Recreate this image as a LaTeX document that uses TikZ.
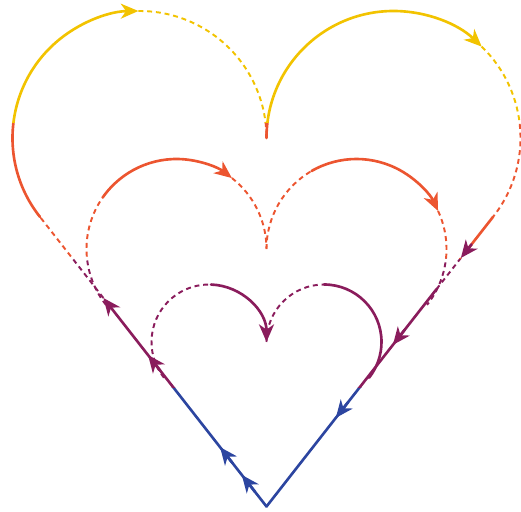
\documentclass[tikz,border=0pt]{standalone}
\usetikzlibrary{arrows.meta,calc}

\definecolor{hyellow}{HTML}{F2C300}
\definecolor{hred}{HTML}{EC5530}
\definecolor{hpurple}{HTML}{8A1C5C}
\definecolor{hblue}{HTML}{2C45A0}

\newcommand{\heartlines}{%
\draw[solidline,withtip] (V) -- ($(V)!0.72!(bTL)$);
\draw[dashline] ($(V)!0.72!(bTL)$) -- (bTL);
\draw[solidline] (V) -- ($(V)!0.75!(bTR)$);
\draw[dashline] ($(V)!0.75!(bTR)$) -- ($(V)!0.858!(bTR)$);
\draw[solidline] ($(V)!0.87!(bTR)$) -- (bTR);
\draw[solidline,withtip] ($(V)!0.05!(bTL)$) -- ($(V)!0.109!(bTL)$);
\draw[solidline,withtip] ($(V)!0.15!(bTL)$) -- ($(V)!0.205!(bTL)$);
\draw[solidline,withtip] ($(V)!0.47!(bTL)$) -- ($(V)!0.523!(bTL)$);
\draw[solidline,withtip] ($(V)!0.61!(bTR)$) -- ($(V)!0.558!(bTR)$);
\draw[solidline,withtip] ($(V)!0.36!(bTR)$) -- ($(V)!0.306!(bTR)$);
\draw[solidline,withtip] (bTL) arc[start angle=218.4, end angle=90.5, radius=127];
\draw[dashline] (bL) ++(90.5:127) arc[start angle=90.5, end angle=0, radius=127];
\draw[solidline,withtip] (bR) ++(180:127) arc[start angle=180, end angle=46, radius=127];
\draw[dashline] (bR) ++(46:127) arc[start angle=46, end angle=-38.4, radius=127];
\draw[dashline] (mTL) arc[start angle=218.4, end angle=145, radius=90];
\draw[solidline,withtip] (mL) ++(145:90) arc[start angle=145, end angle=52, radius=90];
\draw[dashline] (mL) ++(52:90) arc[start angle=52, end angle=0, radius=90];
\draw[dashline] (mR) ++(180:90) arc[start angle=180, end angle=120, radius=90];
\draw[solidline,withtip] (mR) ++(120:90) arc[start angle=120, end angle=25, radius=90];
\draw[dashline] (mR) ++(25:90) arc[start angle=25, end angle=-38.4, radius=90];
\draw[dashline] (sTL) arc[start angle=218.4, end angle=88, radius=57.5];
\draw[solidline,withtip] (sL) ++(88:57.5) arc[start angle=88, end angle=0, radius=57.5];
\draw[dashline] (sR) ++(180:57.5) arc[start angle=180, end angle=90, radius=57.5];
\draw[solidline] (sR) ++(90:57.5) arc[start angle=90, end angle=-38.4, radius=57.5];
}

\begin{document}
\begin{tikzpicture}[x=0.02cm, y=0.02cm,
  solidline/.style={line width=1.5pt, line cap=round},
  dashline/.style={line width=1.1pt, dash pattern=on 2.8pt off 2.2pt},
  withtip/.style={-{Stealth[length=10pt, width=8.5pt, inset=3pt]}}]
\useasboundingbox (0,0) rectangle (521,511);
\coordinate (V) at (266.5,4.5);
\coordinate (bL) at (139.5,373);
\coordinate (bR) at (393.5,373);
\coordinate (mL) at (176.5,262);
\coordinate (mR) at (356.5,262);
\coordinate (sL) at (209,169);
\coordinate (sR) at (324,169);
\coordinate (bTL) at ($(bL)+(218.4:127)$);
\coordinate (bTR) at ($(bR)+(-38.4:127)$);
\coordinate (mTL) at ($(mL)+(218.4:90)$);
\coordinate (sTL) at ($(sL)+(218.4:57.5)$);
\foreach \bandcol/\ylo/\yhi in {hblue/-20/123, hpurple/123/252, hred/252/388, hyellow/388/530}{
  \begin{scope}
    \clip (-20,\ylo) rectangle (540,\yhi);
    \begin{scope}[color=\bandcol]
      \heartlines
    \end{scope}
  \end{scope}
}
\draw[solidline,withtip,hpurple] ($(V)!0.905!(bTR)$) -- ($(V)!0.858!(bTR)$);
\end{tikzpicture}
\end{document}
